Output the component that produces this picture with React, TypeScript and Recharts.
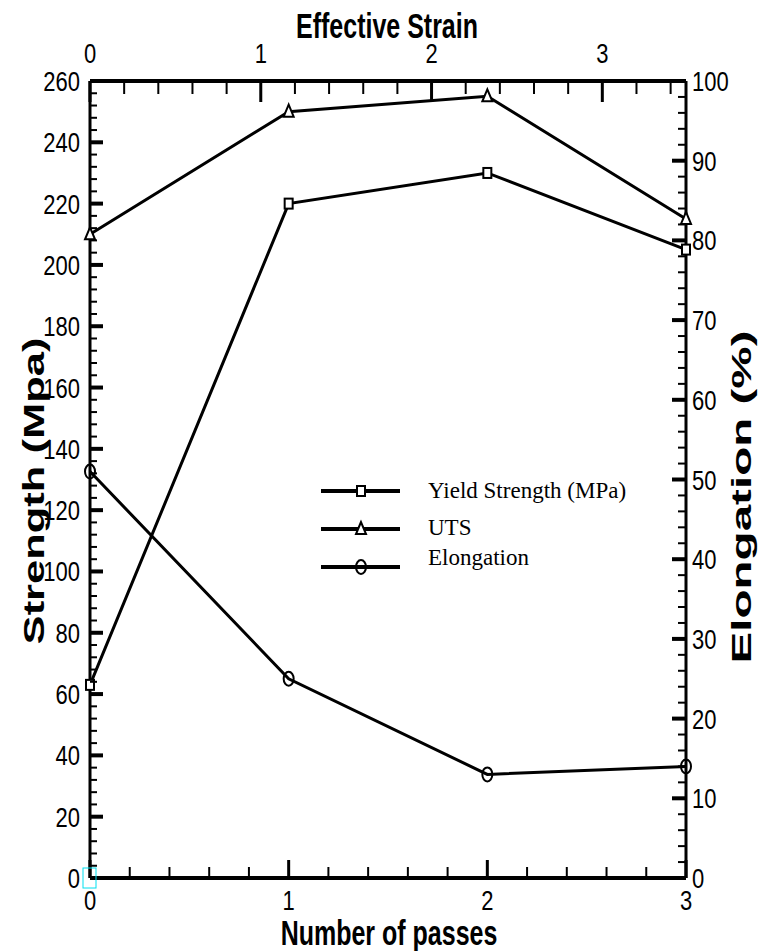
import { Line, LineChart, XAxis, YAxis } from "recharts";

// values
const passes = [0, 1, 2, 3];
const yieldStrength = [63, 220, 230, 205];
const uts = [210, 250, 255, 215];
const elongation = [51, 25, 13, 14];

// major tick labels
const passTicks = [0, 1, 2, 3];
const strainTicks = [0, 1, 2, 3];
const strengthTicks = [0, 20, 40, 60, 80, 100, 120, 140, 160, 180, 200, 220, 240, 260];
const elongationTicks = [0, 10, 20, 30, 40, 50, 60, 70, 80, 90, 100];
const strainMax = 3.49;

const seriesNames = ["Yield Strength (MPa)", "UTS", "Elongation"];

const rows = passes.map((p, i) => ({
  pass: p,
  ys: yieldStrength[i],
  uts: uts[i],
  el: elongation[i],
}));

const SANS = "'Liberation Sans', Arial, sans-serif";
const SERIF = "'Liberation Serif', 'Times New Roman', serif";
const TICK_FS = 22;
const TICK_SY = 1.25;

// add minor ticks between the majors
function withMinor(major: number[], parts: number, end?: number) {
  const step = (major[1] - major[0]) / parts;
  const last = end ?? major[major.length - 1];
  const out: number[] = [];
  for (let i = 0; major[0] + i * step <= last + 1e-9; i++) {
    out.push(+(major[0] + i * step).toFixed(4));
  }
  return out;
}

const isMajor = (majors: number[], v: number) => majors.some((m) => Math.abs(m - v) < 1e-6);

function TickText({ x, y, anchor, children }: any) {
  return (
    <text
      transform={`translate(${x},${y}) scale(1,${TICK_SY})`}
      textAnchor={anchor}
      fontSize={TICK_FS}
      fontFamily={SANS}
      fill="#000"
    >
      {children}
    </text>
  );
}

const bottomTick = (props: any) => {
  const { x, y, payload } = props;
  const major = isMajor(passTicks, payload.value);
  return (
    <g>
      <line x1={x} y1={y} x2={x} y2={y - (major ? 18 : 11)} stroke="#000" strokeWidth={major ? 3 : 2} />
      {major && (
        <TickText x={x} y={y + 32} anchor="middle">
          {payload.value}
        </TickText>
      )}
    </g>
  );
};

const topTick = (props: any) => {
  const { x, y, payload } = props;
  const major = isMajor(strainTicks, payload.value);
  return (
    <g>
      <line x1={x} y1={y} x2={x} y2={y + (major ? 21 : 13)} stroke="#000" strokeWidth={major ? 3 : 2} />
      {major && (
        <TickText x={x} y={y - 18} anchor="middle">
          {payload.value}
        </TickText>
      )}
    </g>
  );
};

const leftTick = (props: any) => {
  const { x, y, payload } = props;
  const major = isMajor(strengthTicks, payload.value);
  return (
    <g>
      <line x1={x} y1={y} x2={x + (major ? 13 : 7)} y2={y} stroke="#000" strokeWidth={major ? 4 : 2} />
      {major && (
        <TickText x={x - 10} y={y + 10} anchor="end">
          {payload.value}
        </TickText>
      )}
    </g>
  );
};

const rightTick = (props: any) => {
  const { x, y, payload } = props;
  const major = isMajor(elongationTicks, payload.value);
  return (
    <g>
      <line x1={x} y1={y} x2={x - (major ? 14 : 8)} y2={y} stroke="#000" strokeWidth={major ? 4 : 2} />
      {major && (
        <TickText x={x + 6} y={y + 10} anchor="start">
          {payload.value}
        </TickText>
      )}
    </g>
  );
};

type Kind = "square" | "triangle" | "circle";

function Marker({ kind, cx, cy }: { kind: Kind; cx: number; cy: number }) {
  if (kind === "square")
    return <rect x={cx - 4} y={cy - 5} width={8} height={10} fill="#fff" stroke="#000" strokeWidth={2} />;
  if (kind === "triangle")
    return (
      <polygon
        points={`${cx},${cy - 7} ${cx - 5},${cy + 5} ${cx + 5},${cy + 5}`}
        fill="#fff"
        stroke="#000"
        strokeWidth={2}
      />
    );
  return <ellipse cx={cx} cy={cy} rx={5} ry={7} fill="none" stroke="#000" strokeWidth={2} />;
}

const dotOf = (kind: Kind) => (p: any) => <Marker key={`${kind}-${p.index}`} kind={kind} cx={p.cx} cy={p.cy} />;

const legendRows: { kind: Kind; lineY: number; textY: number }[] = [
  { kind: "square", lineY: 491, textY: 498 },
  { kind: "triangle", lineY: 529, textY: 535 },
  { kind: "circle", lineY: 567, textY: 565 },
];

export default function App() {
  return (
    <div style={{ position: "absolute", left: 0, top: 0, width: 758, height: 951, background: "#fff" }}>
      <LineChart width={758} height={951} data={rows} margin={{ top: 0, right: 0, bottom: 0, left: 0 }}>
        <XAxis
          xAxisId="passes"
          dataKey="pass"
          type="number"
          domain={[0, 3]}
          ticks={withMinor(passTicks, 5)}
          interval={0}
          height={73}
          tickSize={0}
          tickMargin={0}
          tickLine={false}
          tick={bottomTick}
          axisLine={{ stroke: "#000", strokeWidth: 4 }}
        />
        <XAxis
          xAxisId="strain"
          dataKey="pass"
          orientation="top"
          type="number"
          domain={[0, strainMax]}
          allowDataOverflow
          ticks={withMinor(strainTicks, 5, strainMax)}
          interval={0}
          height={81}
          tickSize={0}
          tickMargin={0}
          tickLine={false}
          tick={topTick}
          axisLine={{ stroke: "#000", strokeWidth: 4 }}
        />
        <YAxis
          yAxisId="strength"
          type="number"
          domain={[0, 260]}
          ticks={withMinor(strengthTicks, 5)}
          interval={0}
          width={90}
          tickSize={0}
          tickMargin={0}
          tickLine={false}
          tick={leftTick}
          axisLine={{ stroke: "#000", strokeWidth: 3 }}
        />
        <YAxis
          yAxisId="elong"
          orientation="right"
          type="number"
          domain={[0, 100]}
          ticks={withMinor(elongationTicks, 5)}
          interval={0}
          width={72}
          tickSize={0}
          tickMargin={0}
          tickLine={false}
          tick={rightTick}
          axisLine={{ stroke: "#000", strokeWidth: 3 }}
        />
        <Line
          xAxisId="passes"
          yAxisId="strength"
          type="linear"
          dataKey="ys"
          name={seriesNames[0]}
          stroke="#000"
          strokeWidth={3}
          dot={dotOf("square")}
          isAnimationActive={false}
        />
        <Line
          xAxisId="passes"
          yAxisId="strength"
          type="linear"
          dataKey="uts"
          name={seriesNames[1]}
          stroke="#000"
          strokeWidth={3}
          dot={dotOf("triangle")}
          isAnimationActive={false}
        />
        <Line
          xAxisId="passes"
          yAxisId="elong"
          type="linear"
          dataKey="el"
          name={seriesNames[2]}
          stroke="#000"
          strokeWidth={3}
          dot={dotOf("circle")}
          isAnimationActive={false}
        />
      </LineChart>

      <svg
        width={758}
        height={951}
        style={{ position: "absolute", left: 0, top: 0, pointerEvents: "none" }}
      >
        <text
          transform="translate(387,38) scale(1,1.4)"
          textAnchor="middle"
          fontSize={25}
          fontWeight="bold"
          fontFamily={SANS}
        >
          Effective Strain
        </text>
        <text
          transform="translate(389,945) scale(1,1.4)"
          textAnchor="middle"
          fontSize={25}
          fontWeight="bold"
          fontFamily={SANS}
        >
          Number of passes
        </text>
        <text
          transform="translate(44,491) rotate(-90) scale(1.5,1)"
          textAnchor="middle"
          fontSize={29}
          fontWeight="bold"
          fontFamily={SANS}
        >
          Strength (Mpa)
        </text>
        <text
          transform="translate(751,497) rotate(-90) scale(1.7,1)"
          textAnchor="middle"
          fontSize={28}
          fontWeight="bold"
          fontFamily={SANS}
        >
          Elongation (%)
        </text>

        {legendRows.map((r, i) => (
          <g key={r.kind}>
            <line x1={321} y1={r.lineY} x2={400} y2={r.lineY} stroke="#000" strokeWidth={4} />
            <Marker kind={r.kind} cx={361} cy={r.lineY} />
            <text x={428} y={r.textY} fontSize={23} fontFamily={SERIF}>
              {seriesNames[i]}
            </text>
          </g>
        ))}

        <rect x={83} y={868} width={13} height={20} fill="none" stroke="#00e0f0" strokeWidth={1} />
      </svg>
    </div>
  );
}
